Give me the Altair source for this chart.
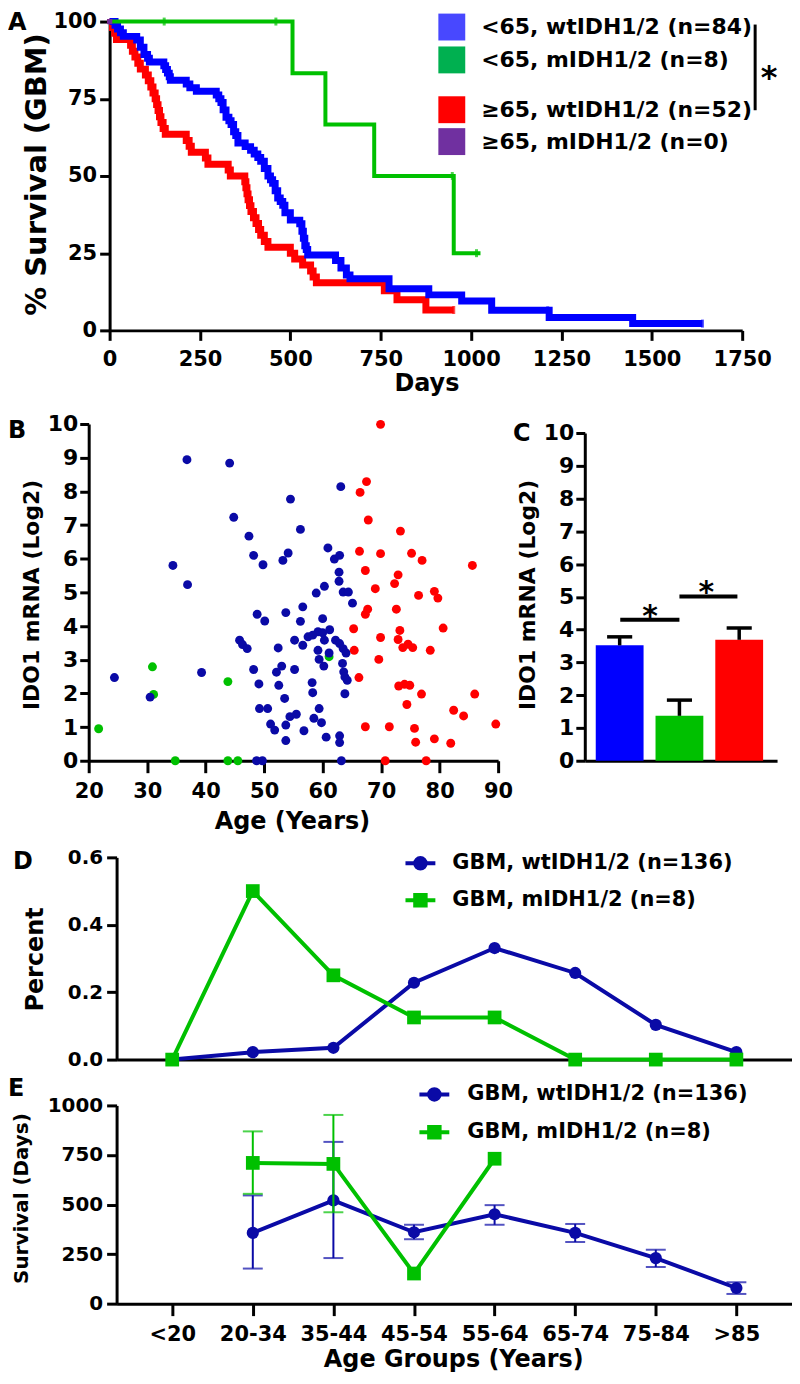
import altair as alt
import pandas as pd

FONT = "DejaVu Sans"
NAVY = "#0A0AA6"
GREEN = "#00C000"

# ================= Panel A : Kaplan-Meier (days, % survival) =================
km_blue_days = [0, 15, 22, 30, 38, 75, 85, 95, 105, 110, 150, 155, 160, 165, 168, 212, 222, 240, 295, 302,
                308, 314, 322, 330, 336, 343, 349, 355, 375, 390, 400, 410, 418, 428, 438, 445, 451, 458, 465, 472,
                479, 485, 500, 526, 532, 536, 540, 544, 548, 625, 640, 655, 665, 773, 883, 974, 1057, 1216, 1447, 1640]
km_blue_surv = [100, 98.8, 97.6, 96.4, 95.2, 94.0, 91.7, 89.3, 88.1, 86.9, 85.7, 84.5, 83.3, 82.1, 81.0, 79.8, 78.6, 77.4, 76.2, 75.0,
                73.8, 71.4, 69.0, 67.9, 66.7, 64.3, 63.1, 60.7, 59.5, 58.3, 57.1, 56.0, 54.8, 52.4, 50.0, 48.8, 47.6, 45.2, 42.9, 41.7,
                40.5, 38.1, 35.7, 34.5, 32.1, 29.8, 27.4, 26.2, 24.4, 22.6, 20.2, 17.9, 16.7, 13.5, 11.5, 9.5, 6.5, 4.2, 2.2, 2.2]
km_red_days = [0, 8, 14, 19, 58, 63, 70, 78, 85, 99, 107, 114, 120, 126, 130, 134, 138, 142, 148, 154,
               212, 220, 226, 265, 272, 328, 334, 374, 377, 380, 383, 387, 391, 398, 405, 412, 418, 428, 438, 500,
               512, 534, 556, 563, 572, 760, 795, 875, 952]
km_red_surv = [100, 98.1, 96.2, 94.2, 92.3, 90.4, 88.5, 86.5, 84.6, 82.7, 80.8, 78.8, 76.9, 75.0, 73.1, 71.2, 69.2, 67.3, 65.4, 63.5,
               61.5, 59.6, 57.7, 55.8, 53.8, 51.9, 50.0, 48.1, 46.2, 44.2, 42.3, 40.4, 38.5, 36.5, 34.6, 32.7, 30.8, 28.8, 26.9, 25.0,
               23.1, 21.2, 19.2, 17.3, 15.4, 12.8, 9.9, 6.6, 6.6]
km_green_days = [0, 506, 597, 732, 952, 1026]
km_green_surv = [100, 83.3, 66.7, 50.0, 25.0, 25.0]
cens_green_days = [151, 460, 948, 1015]
cens_green_surv = [100, 100, 50, 25]
cens_blue_days = [1212, 1640]
cens_blue_surv = [6.5, 2.2]
cens_red_days = [952]
cens_red_surv = [6.6]
legend_a1 = ["<65, wtIDH1/2 (n=84)", "<65, mIDH1/2 (n=8)"]
legend_a1_colors = ["#4848FF", "#00B050"]
legend_a2 = ["\u226565, wtIDH1/2 (n=52)", "\u226565, mIDH1/2 (n=0)"]
legend_a2_colors = ["#FF0000", "#7030A0"]

# ================= Panel B : IDO1 vs age scatter =================
b_young_wt_age = [24.4, 30.5, 34.4, 36.8, 36.9, 39.3, 44.1, 63.1, 54.5, 44.8, 56.2, 47.4, 48.2, 49.8, 53.2, 54.1, 60.9, 62.0,
                  62.9, 62.8, 62.8, 60.3, 58.9, 63.5, 64.4, 65.1, 56.6, 53.7, 48.8, 50.1, 60.0, 56.2, 61.2, 59.2, 60.0, 57.5,
                  58.3, 55.2, 60.3, 62.2, 62.9, 63.5, 64.0, 56.6, 52.4, 59.2, 61.1, 59.4, 60.2, 63.4, 63.6, 63.8, 64.2, 63.8,
                  45.8, 46.3, 47.1, 48.2, 49.1, 53.0, 52.1, 55.2, 52.5, 53.5, 58.2, 58.3, 49.2, 50.6, 59.4, 54.4, 55.5, 58.5,
                  59.8, 51.1, 51.8, 53.7, 56.8, 53.7, 60.6, 62.9, 62.9, 48.7, 49.7, 63.2]
b_young_wt_ido = [2.47, 1.89, 5.80, 8.94, 5.23, 2.62, 8.84, 8.14, 7.77, 7.23, 6.87, 6.67, 6.10, 5.82, 5.95, 6.17, 6.32, 5.99,
                  6.10, 5.60, 5.33, 5.18, 4.98, 5.01, 5.01, 4.68, 4.57, 4.40, 4.35, 4.15, 4.22, 4.14, 3.89, 3.83, 3.80, 3.68,
                  3.73, 3.58, 3.58, 3.58, 3.48, 3.33, 3.20, 3.43, 3.35, 3.28, 3.20, 3.01, 2.81, 2.89, 2.64, 2.49, 2.39, 1.99,
                  3.58, 3.45, 3.33, 2.71, 2.28, 2.81, 2.63, 2.71, 2.24, 1.85, 2.32, 2.02, 1.55, 1.55, 1.55, 1.31, 1.38, 1.26,
                  1.13, 1.09, 0.91, 1.06, 0.89, 0.60, 0.70, 0.74, 0.54, 0.0, 0.0, 0.0]
b_young_m_age = [21.7, 30.9, 31.1, 34.8, 43.8, 43.8, 45.5, 61.1]
b_young_m_ido = [0.95, 2.79, 1.97, 0.0, 2.35, 0.0, 0.0, 3.09]
b_old_wt_age = [69.9, 67.5, 66.4, 67.8, 73.3, 66.3, 69.9, 75.2, 77.0, 85.6, 67.3, 72.9, 72.3, 69.0, 79.1, 79.7, 76.4, 67.7,
                67.3, 72.6, 80.6, 65.3, 73.2, 69.9, 72.9, 73.7, 74.6, 75.4, 78.4, 65.4, 69.6, 66.2, 73.0, 74.0, 74.9, 76.9,
                86.0, 74.4, 82.4, 84.1, 89.6, 67.3, 71.4, 75.7, 75.9, 79.1, 81.9, 70.7, 77.7]
b_old_wt_ido = [9.99, 8.29, 7.97, 7.15, 6.82, 6.22, 6.15, 6.16, 5.95, 5.80, 5.65, 5.52, 5.26, 5.11, 5.03, 4.83, 4.91, 4.50,
                4.35, 4.50, 3.94, 3.92, 3.87, 3.66, 3.60, 3.36, 3.46, 3.36, 3.28, 3.28, 3.01, 2.47, 2.22, 2.27, 2.24, 1.98,
                1.98, 1.67, 1.50, 1.33, 1.09, 1.01, 1.01, 0.96, 0.55, 0.65, 0.52, 0.0, 0.0]
b_groups = ["<65 m", "<65 wt", ">=65 wt"]
b_colors = [GREEN, NAVY, "#FF0000"]

# ================= Panel C : mean IDO1 bars =================
c_groups = ["<65 wt", "<65 m", ">=65 wt"]
c_pos = [1, 2, 3]
c_mean = [3.52, 1.37, 3.69]
c_sem = [0.26, 0.48, 0.36]
c_colors = ["#0000FF", GREEN, "#FF0000"]
c_sig_from = [1.01, 2.0]
c_sig_to = [2.0, 2.97]
c_sig_y = [4.30, 5.01]
c_star_x = [1.51, 2.45]
c_star_y = [4.63, 5.37]

# ================= Panels D / E : age groups =================
age_groups = ["<20", "20-34", "35-44", "45-54", "55-64", "65-74", "75-84", ">85"]
d_wt_pct = [0.0, 0.022, 0.035, 0.228, 0.331, 0.257, 0.103, 0.022]
d_m_pct = [0.0, 0.5, 0.25, 0.125, 0.125, 0.0, 0.0, 0.0]
e_wt_groups = ["20-34", "35-44", "45-54", "55-64", "65-74", "75-84", ">85"]
e_wt_surv = [357, 521, 360, 451, 357, 230, 79]
e_wt_lo = [177, 230, 325, 398, 311, 185, 49]
e_wt_hi = [546, 816, 398, 497, 402, 272, 108]
e_m_groups = ["20-34", "35-44", "45-54", "55-64"]
e_m_surv = [710, 705, 152, 731]
e_m_err_groups = ["20-34", "35-44"]
e_m_lo = [554, 461]
e_m_hi = [869, 952]
series_names = ["GBM, wtIDH1/2 (n=136)", "GBM, mIDH1/2 (n=8)"]

CIRCLE_LEG = ("M-1,0H1M0.35,0A0.35,0.35,0,1,1,-0.35,0A0.35,0.35,0,1,1,0.35,0Z"
              "M0.15,0A0.15,0.15,0,1,1,-0.15,0A0.15,0.15,0,1,1,0.15,0Z")
SQUARE_LEG = "M-1,0H1M-0.35,-0.35H0.35V0.35H-0.35ZM-0.13,-0.13H0.13V0.13H-0.13Z"

# ---------------- frame: one plot area, panels placed by scale ranges ----------------
PAGE = 8                 # body margin
OX, OY = 89, 19          # page position of the shared plot origin
W = 706
H = 1306 - OY            # bottom of panel E
PAD = {"left": OX - PAGE, "top": OY - PAGE, "right": 0, "bottom": 1375 - 1306}


def px(x):
    return x - OX


def py(y):
    return y - OY


A_Y = [py(329), py(19)]
B_Y = [py(761), py(423)]
C_Y = [py(761), py(432)]
D_Y = [py(1061), py(858)]
E_Y = [py(1306), py(1107)]


def letter(txt, x, y, size=24):
    return alt.Chart(pd.DataFrame({"t": [txt]})).mark_text(
        text=txt, font=FONT, fontWeight="bold", fontSize=size, align="left",
        baseline="top", color="black").encode(x=alt.value(px(x)), y=alt.value(py(y) - 1.5))


def yaxis(values, title, axis_x, tx, ty, tsize, lsize=21, tick=10, pad=3, fmt=None):
    kw = dict(values=values, title=title, orient="left", offset=-px(axis_x), tickSize=tick, labelPadding=pad,
              labelFontSize=lsize, titleFontSize=tsize, titleX=tx - axis_x, titleY=py(ty), titleAngle=-90,
              titleAlign="center", titleBaseline="middle")
    if fmt:
        kw["format"] = fmt
    return alt.Axis(**kw)


def xaxis(values, title, axis_y, tx, ty, tsize, lsize=21, tick=12, pad=8, fmt=None, show=True):
    if not show:
        return alt.Axis(orient="bottom", offset=py(axis_y) - H, labels=False, ticks=False, title=None)
    kw = dict(values=values, title=title, orient="bottom", offset=py(axis_y) - H, tickSize=tick,
              labelPadding=pad, labelFontSize=lsize, titleFontSize=tsize, titleX=px(tx), titleY=ty - axis_y,
              titleAngle=0, titleAlign="center", titleBaseline="middle", labelAngle=0)
    if fmt:
        kw["format"] = fmt
    return alt.Axis(**kw)


# ---------------- A ----------------
def xA():
    return alt.X("day:Q", scale=alt.Scale(domain=[0, 1750], range=[px(110), px(745)], nice=False, zero=False),
                 axis=xaxis([0, 250, 500, 750, 1000, 1250, 1500, 1750], "Days", 329, 428, 382, 24, tick=10, fmt="d"))


def yA():
    return alt.Y("surv:Q", scale=alt.Scale(domain=[0, 100], range=A_Y, nice=False),
                 axis=yaxis([0, 25, 50, 75, 100], "% Survival  (GBM)", 110, 37, 172, 29))


def km(days, surv, color, w):
    return alt.Chart(pd.DataFrame({"day": days, "surv": surv})).mark_line(
        interpolate="step-after", color=color, strokeWidth=w, strokeJoin="miter").encode(x=xA(), y=yA())


def cens(days, surv, color):
    return alt.Chart(pd.DataFrame({"day": days, "surv": surv})).mark_tick(
        orient="vertical", size=8, thickness=3, color=color).encode(x=xA(), y=yA())


legA1 = alt.Chart(pd.DataFrame({"day": [0, 0], "surv": [100, 100], "g1": legend_a1})).mark_square(
    size=25, opacity=1).encode(
    x=xA(), y=yA(),
    color=alt.Color("g1:N", scale=alt.Scale(domain=legend_a1, range=legend_a1_colors),
                    legend=alt.Legend(title=None, orient="none", legendX=px(440), legendY=py(11), symbolSize=729,
                                      symbolType="square", symbolStrokeWidth=0, labelFontSize=22,
                                      labelOffset=16, rowPadding=6, labelLimit=600)))
legA2 = alt.Chart(pd.DataFrame({"day": [0, 0], "surv": [100, 100], "g2": legend_a2})).mark_square(
    size=25, opacity=1).encode(
    x=xA(), y=yA(),
    fill=alt.Fill("g2:N", scale=alt.Scale(domain=legend_a2, range=legend_a2_colors),
                  legend=alt.Legend(title=None, orient="none", legendX=px(440), legendY=py(94), symbolSize=729,
                                    symbolType="square", symbolStrokeWidth=0, labelFontSize=22,
                                    labelOffset=16, rowPadding=5, labelLimit=600)))
bracket = alt.Chart(pd.DataFrame({"a": [0]})).mark_rule(strokeWidth=3, color="black").encode(
    x=alt.value(px(758)), y=alt.value(py(22)), y2=alt.value(py(108)))
starA = alt.Chart(pd.DataFrame({"a": [0]})).mark_text(
    text="*", font=FONT, fontWeight="bold", fontSize=32, align="center", baseline="alphabetic",
    color="black").encode(x=alt.value(px(772)), y=alt.value(py(86)))

panelA = alt.layer(
    km(km_red_days, km_red_surv, "#FF0000", 7),
    km(km_blue_days, km_blue_surv, "#0000FF", 7),
    km(km_green_days, km_green_surv, GREEN, 4),
    cens(cens_red_days, cens_red_surv, "#FF0000"),
    cens(cens_blue_days, cens_blue_surv, "#0000FF"),
    cens(cens_green_days, cens_green_surv, GREEN),
    legA1, legA2, bracket, starA, letter("A", 8, 10)
)

# ---------------- B ----------------
dfB = pd.concat([
    pd.DataFrame({"age": b_young_m_age, "ido": b_young_m_ido, "grp": b_groups[0]}),
    pd.DataFrame({"age": b_young_wt_age, "ido": b_young_wt_ido, "grp": b_groups[1]}),
    pd.DataFrame({"age": b_old_wt_age, "ido": b_old_wt_ido, "grp": b_groups[2]}),
], ignore_index=True)

pointsB = alt.Chart(dfB).mark_circle(size=80, opacity=1).encode(
    x=alt.X("age:Q", scale=alt.Scale(domain=[20, 90], range=[px(89), px(500)], nice=False, zero=False),
            axis=xaxis(list(range(20, 91, 10)), "Age (Years)", 761, 293, 822, 24)),
    y=alt.Y("ido:Q", scale=alt.Scale(domain=[0, 10], range=B_Y, nice=False),
            axis=yaxis(list(range(0, 11)), "IDO1 mRNA (Log2)", 89, 32, 594, 22, lsize=22, tick=9, pad=2)),
    color=alt.Color("grp:N", scale=alt.Scale(domain=b_groups, range=b_colors), legend=None))
panelB = alt.layer(pointsB, letter("B", 8, 420))

# ---------------- C ----------------
dfC = pd.DataFrame({"grp": c_groups, "pos": c_pos, "mean": c_mean, "sem": c_sem})
dfC["xl"] = dfC["pos"] - 0.4
dfC["xr"] = dfC["pos"] + 0.4
dfC["cl"] = dfC["pos"] - 0.21
dfC["cr"] = dfC["pos"] + 0.21
dfC["upper"] = dfC["mean"] + dfC["sem"]
dfC["base"] = 0.0

xC_scale = alt.Scale(domain=[0.4167, 3.6333], range=[px(587), px(780)], nice=False, zero=False)
xC_axis = xaxis(None, None, 761, 0, 0, 0, show=False)
yC_scale = alt.Scale(domain=[0, 10], range=C_Y, nice=False)
yC_axis = yaxis(list(range(0, 11)), "IDO1 mRNA (Log2)", 587, 530, 594, 22, lsize=22, tick=9, pad=2)


def xC(field):
    return alt.X(field, scale=xC_scale, axis=xC_axis)


def yC(field):
    return alt.Y(field, scale=yC_scale, axis=yC_axis)


barsC = alt.Chart(dfC).mark_bar().encode(
    x=xC("xl:Q"), x2="xr:Q", y=yC("mean:Q"), y2="base:Q",
    color=alt.Color("grp:N", scale=alt.Scale(domain=c_groups, range=c_colors), legend=None))
errC = alt.Chart(dfC).mark_rule(strokeWidth=3.5, color="black").encode(x=xC("pos:Q"), y=yC("mean:Q"), y2="upper:Q")
capC = alt.Chart(dfC).mark_rule(strokeWidth=3.5, color="black").encode(x=xC("cl:Q"), x2="cr:Q", y=yC("upper:Q"))
dfSig = pd.DataFrame({"x1": c_sig_from, "x2": c_sig_to, "y": c_sig_y, "sx": c_star_x, "sy": c_star_y})
sigC = alt.Chart(dfSig).mark_rule(strokeWidth=4, color="black").encode(x=xC("x1:Q"), x2="x2:Q", y=yC("y:Q"))
starC = alt.Chart(dfSig).mark_text(text="*", font=FONT, fontWeight="bold", fontSize=30,
                                   baseline="alphabetic", dy=17, color="black").encode(x=xC("sx:Q"), y=yC("sy:Q"))
panelC = alt.layer(barsC, errC, capC, sigC, starC, letter("C", 515, 423))


# ---------------- D / E shared category axis ----------------
def xCat(axis_y, show):
    if show:
        ax = xaxis(age_groups, "Age Groups (Years)", axis_y, 455, 1362, 24)
    else:
        ax = xaxis(None, None, axis_y, 0, 0, 0, show=False)
    return alt.X("cat:N", sort=age_groups,
                 scale=alt.Scale(type="point", domain=age_groups, range=[px(117), px(795)], padding=0.69), axis=ax)


def legend_layer(xenc, yenc, lx, ly, rp, off):
    leg = alt.Legend(title=None, orient="none", legendX=px(lx), legendY=py(ly), symbolSize=900, symbolStrokeWidth=4,
                     labelFontSize=21, labelOffset=off, rowPadding=rp, labelLimit=600)
    return alt.Chart(pd.DataFrame({"cat": ["<20", "<20"], "val": [-5000, -5000], "series": series_names})).mark_point(
        filled=False, clip=True, size=30, strokeWidth=4, opacity=1).encode(
        x=xenc, y=yenc,
        color=alt.Color("series:N", scale=alt.Scale(domain=series_names, range=[NAVY, GREEN]), legend=leg),
        shape=alt.Shape("series:N", scale=alt.Scale(domain=series_names, range=[CIRCLE_LEG, SQUARE_LEG]), legend=leg))


def xD():
    return xCat(1061, False)


def yD():
    return alt.Y("val:Q", scale=alt.Scale(domain=[0, 0.6], range=D_Y, nice=False),
                 axis=yaxis([0, 0.2, 0.4, 0.6], "Percent", 117, 36, 960, 24, lsize=20, tick=10, pad=4, fmt=".1f"))


dfD_wt = pd.DataFrame({"cat": age_groups, "val": d_wt_pct})
dfD_m = pd.DataFrame({"cat": age_groups, "val": d_m_pct})
panelD = alt.layer(
    alt.Chart(dfD_wt).mark_line(color=NAVY, strokeWidth=4).encode(x=xD(), y=yD()),
    alt.Chart(dfD_wt).mark_point(shape="circle", filled=True, size=150, opacity=1, color=NAVY).encode(x=xD(), y=yD()),
    alt.Chart(dfD_m).mark_line(color=GREEN, strokeWidth=4).encode(x=xD(), y=yD()),
    alt.Chart(dfD_m).mark_point(shape="square", filled=True, size=190, opacity=1, color=GREEN).encode(x=xD(), y=yD()),
    legend_layer(xD(), yD(), 405, 847, 6, 15),
    letter("D", 13, 852)
)


def xE():
    return xCat(1306, True)


def yE():
    return alt.Y("val:Q", scale=alt.Scale(domain=[0, 1000], range=E_Y, nice=False),
                 axis=yaxis([0, 250, 500, 750, 1000], "Survival (Days)", 117, 22, 1200, 20, lsize=20, tick=10, pad=4,
                            fmt="d"))


dfE_wt = pd.DataFrame({"cat": e_wt_groups, "val": e_wt_surv, "lo": e_wt_lo, "hi": e_wt_hi})
dfE_m = pd.DataFrame({"cat": e_m_groups, "val": e_m_surv})
dfE_merr = pd.DataFrame({"cat": e_m_err_groups, "lo": e_m_lo, "hi": e_m_hi})


def err_layers(df, color):
    return [
        alt.Chart(df).mark_rule(color=color, strokeWidth=2).encode(x=xE(), y=alt.Y("lo:Q"), y2="hi:Q"),
        alt.Chart(df).mark_tick(orient="horizontal", size=20, thickness=2, color=color).encode(x=xE(), y=alt.Y("lo:Q")),
        alt.Chart(df).mark_tick(orient="horizontal", size=20, thickness=2, color=color).encode(x=xE(), y=alt.Y("hi:Q")),
    ]


panelE = alt.layer(
    alt.Chart(dfE_wt).mark_line(color=NAVY, strokeWidth=4).encode(x=xE(), y=yE()),
    *err_layers(dfE_wt, NAVY),
    alt.Chart(dfE_wt).mark_point(shape="circle", filled=True, size=150, opacity=1, color=NAVY).encode(x=xE(), y=yE()),
    alt.Chart(dfE_m).mark_line(color=GREEN, strokeWidth=4).encode(x=xE(), y=yE()),
    *err_layers(dfE_merr, GREEN),
    alt.Chart(dfE_m).mark_point(shape="square", filled=True, size=190, opacity=1, color=GREEN).encode(x=xE(), y=yE()),
    legend_layer(xE(), yE(), 419, 1079, 7, 16),
    letter("E", 8, 1080)
)

chart = alt.layer(panelA, panelB, panelC, panelD, panelE).resolve_scale(
    x="independent", y="independent", color="independent", fill="independent", shape="independent"
).resolve_axis(x="independent", y="independent").resolve_legend(
    color="independent", fill="independent", shape="independent"
).properties(width=W, height=H, padding=PAD, autosize=alt.AutoSizeParams(type="none"))

chart = chart.configure_view(stroke=None).configure_axis(
    labelFont=FONT, titleFont=FONT, labelFontWeight="bold", titleFontWeight="bold",
    labelColor="black", titleColor="black", domainColor="black", tickColor="black",
    domainWidth=3, tickWidth=3, grid=False, labelFlush=False, labelOverlap=False
).configure_legend(labelFont=FONT, labelFontWeight="bold", labelColor="black")

chart.save("out.html", embed_options={"renderer": "svg", "actions": False})
